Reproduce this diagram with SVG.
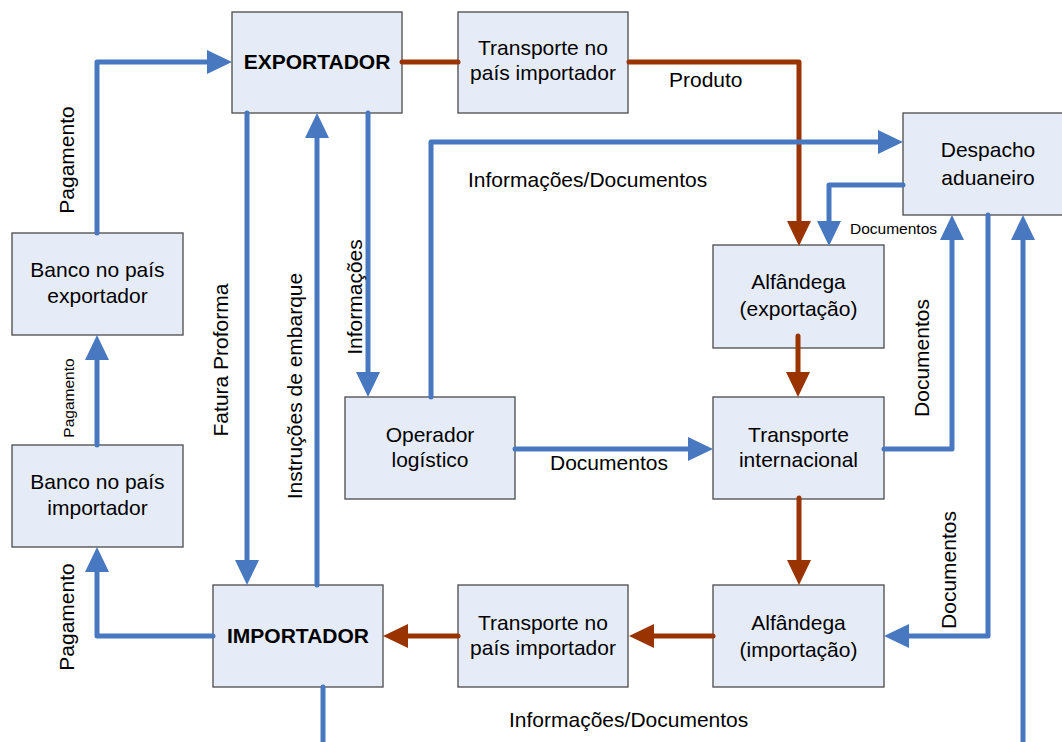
<svg xmlns="http://www.w3.org/2000/svg" width="1062" height="742" viewBox="0 0 1062 742">
<style>
.box{fill:#E6ECF7;stroke:#4a4a4a;stroke-width:1.3}
.t{font-family:"Liberation Sans",Arial,sans-serif;font-size:21px;fill:#000;text-anchor:middle}
.l{font-family:"Liberation Sans",Arial,sans-serif;font-size:21px;fill:#000}
.b{font-weight:bold;font-size:21px}
.s{font-size:15.5px}
.bl{fill:none;stroke:#4878C0;stroke-width:5;stroke-linecap:round;stroke-linejoin:round}
.br{fill:none;stroke:#993300;stroke-width:5;stroke-linecap:round;stroke-linejoin:round}
</style>
<defs>
<marker id="ab" markerUnits="userSpaceOnUse" markerWidth="26" markerHeight="26" refX="13" refY="12" orient="auto"><path d="M0,0 L25,12 L0,24 Z" fill="#4878C0"/></marker>
<marker id="ar" markerUnits="userSpaceOnUse" markerWidth="26" markerHeight="26" refX="13" refY="12" orient="auto"><path d="M0,0 L25,12 L0,24 Z" fill="#993300"/></marker>
</defs>
<rect width="1062" height="742" fill="#fff"/>
<g id="exportador"><rect class="box" x="232" y="12" width="170" height="101"/><text class="t b" x="317" y="69">EXPORTADOR</text></g>
<g id="transporte-topo"><rect class="box" x="458" y="12" width="170" height="101"/><text class="t" x="543" y="55">Transporte no</text><text class="t" x="543" y="80">país importador</text></g>
<g id="despacho"><rect class="box" x="903" y="113" width="170" height="102"/><text class="t" x="988" y="157">Despacho</text><text class="t" x="988" y="185">aduaneiro</text></g>
<g id="banco-exportador"><rect class="box" x="12" y="233" width="171" height="102"/><text class="t" x="97.5" y="277">Banco no país</text><text class="t" x="97.5" y="303">exportador</text></g>
<g id="banco-importador"><rect class="box" x="12" y="445" width="171" height="102"/><text class="t" x="97.5" y="489">Banco no país</text><text class="t" x="97.5" y="515">importador</text></g>
<g id="alfandega-exportacao"><rect class="box" x="713" y="245" width="171" height="103"/><text class="t" x="798.5" y="289">Alfândega</text><text class="t" x="798.5" y="316">(exportação)</text></g>
<g id="operador"><rect class="box" x="345" y="397" width="170" height="102"/><text class="t" x="430" y="442">Operador</text><text class="t" x="430" y="467">logístico</text></g>
<g id="transporte-internacional"><rect class="box" x="713" y="397" width="171" height="102"/><text class="t" x="798.5" y="442">Transporte</text><text class="t" x="798.5" y="467">internacional</text></g>
<g id="importador"><rect class="box" x="213" y="585" width="170" height="102"/><text class="t b" x="298" y="643">IMPORTADOR</text></g>
<g id="transporte-baixo"><rect class="box" x="458" y="585" width="170" height="102"/><text class="t" x="543" y="630">Transporte no</text><text class="t" x="543" y="655">país importador</text></g>
<g id="alfandega-importacao"><rect class="box" x="713" y="585" width="171" height="102"/><text class="t" x="798.5" y="630">Alfândega</text><text class="t" x="798.5" y="657">(importação)</text></g>
<g id="connectors">
<path class="bl" d="M97,233 V62 H220" marker-end="url(#ab)"/>
<path class="bl" d="M247,113 V573" marker-end="url(#ab)"/>
<path class="bl" d="M317,585 V125" marker-end="url(#ab)"/>
<path class="bl" d="M368,113 V385" marker-end="url(#ab)"/>
<path class="br" d="M402,62 H458"/>
<path class="br" d="M629,62 H799 V234" marker-end="url(#ar)"/>
<path class="bl" d="M431,397 V142 H891" marker-end="url(#ab)"/>
<path class="bl" d="M903,185 H829 V234" marker-end="url(#ab)"/>
<path class="bl" d="M515,449 H701" marker-end="url(#ab)"/>
<path class="bl" d="M884,449 H952 V227" marker-end="url(#ab)"/>
<path class="br" d="M798,336 V385" marker-end="url(#ar)"/>
<path class="br" d="M799,498 V573" marker-end="url(#ar)"/>
<path class="bl" d="M988,215 V636 H896" marker-end="url(#ab)"/>
<path class="br" d="M713,636 H641" marker-end="url(#ar)"/>
<path class="br" d="M458,636 H395" marker-end="url(#ar)"/>
<path class="bl" d="M213,636 H97 V559" marker-end="url(#ab)"/>
<path class="bl" d="M97,445 V347" marker-end="url(#ab)"/>
<path class="bl" d="M323,687 V748"/>
<path class="bl" d="M1023,748 V227" marker-end="url(#ab)"/>
</g>
<g id="labels">
<text class="t" x="74" y="160" transform="rotate(-90 74 160)">Pagamento</text>
<text class="t" x="228" y="360" transform="rotate(-90 228 360)">Fatura Proforma</text>
<text class="t" x="302" y="386" transform="rotate(-90 302 386)">Instruções de embarque</text>
<text class="t" x="362" y="297" transform="rotate(-90 362 297)">Informações</text>
<text class="t s" x="74" y="398" transform="rotate(-90 74 398)">Pagamento</text>
<text class="t" x="929" y="358" transform="rotate(-90 929 358)">Documentos</text>
<text class="t" x="956" y="570" transform="rotate(-90 956 570)">Documentos</text>
<text class="t" x="74" y="617" transform="rotate(-90 74 617)">Pagamento</text>
<text class="l" x="669" y="87">Produto</text>
<text class="l" x="468" y="187">Informações/Documentos</text>
<text class="l" x="509" y="727">Informações/Documentos</text>
<text class="l" x="550" y="470">Documentos</text>
<text class="l s" x="850" y="234">Documentos</text>
</g>
</svg>
